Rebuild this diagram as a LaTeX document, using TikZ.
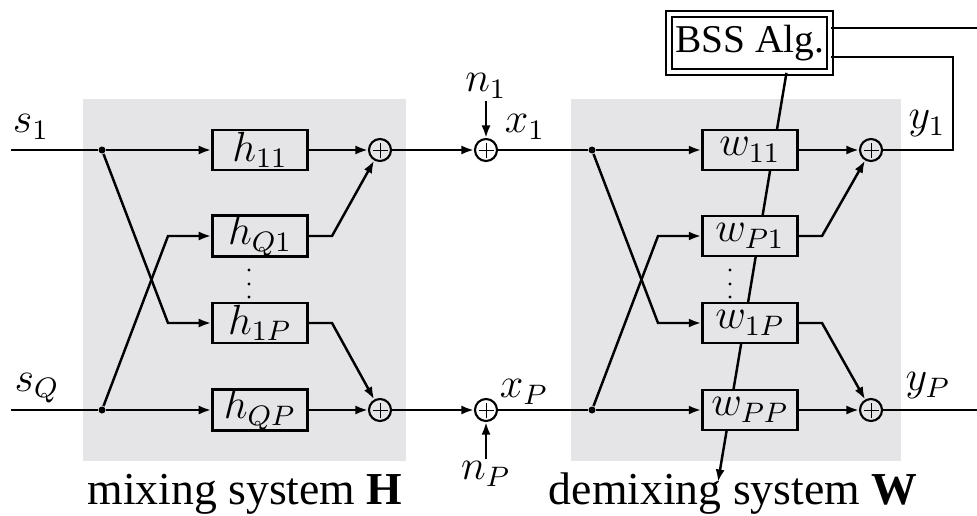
\documentclass[tikz,border=0pt]{standalone}
\usepackage{fontspec}
\setmainfont{Liberation Serif}
\usepackage{tikz}
\usetikzlibrary{arrows.meta}
\definecolor{sysgray}{RGB}{229,229,231}
\newcommand{\filterbox}[3]{
    \node[fbox] (#1) at #2 {$#3$};
}
\tikzset{
    fbox/.style={draw, fill=sysgray, line width=0.7pt, minimum width=0.95cm, minimum height=0.4cm, inner sep=0pt},
    adder/.style={circle, draw, line width=0.6pt, minimum size=0.22cm, inner sep=0pt,
        path picture={\draw[line width=0.25pt]
            ([yshift=-0.075cm]path picture bounding box.center) -- ([yshift=0.075cm]path picture bounding box.center)
            ([xshift=-0.075cm]path picture bounding box.center) -- ([xshift=0.075cm]path picture bounding box.center);}},
    junc/.style={circle, fill, inner sep=0pt, minimum size=0.07cm},
    sig/.style={line width=0.7pt},
    caption/.style={anchor=base, font=\fontsize{13}{15}\selectfont}
}

\begin{document}
\begin{tikzpicture}[x=0.01cm, y=-0.01cm, >={Latex[length=1.25mm,width=0.9mm]}, font=\fontsize{12}{14}\selectfont]
    \useasboundingbox (0,0) rectangle (977,515);
    \fill[sysgray] (83,99) rectangle (406,461);
    \fill[sysgray] (571,99) rectangle (901,461);

    % mixing system
    \coordinate (s1in) at (11,150);
    \coordinate (sQin) at (11,410);
    \node (s1) at (31,127) {$s_1$};
    \node (sQ) at (37,388) {$s_Q$};
    \node[junc] (hd1) at (102,150) {};
    \node[junc] (hdQ) at (102,410) {};
    \coordinate (hb1) at (168,323);
    \coordinate (hbQ) at (168,236);
    \filterbox{h11}{(260,150)}{h_{11}}
    \filterbox{hQ1}{(260,236)}{h_{Q1}}
    \filterbox{h1P}{(260,323)}{h_{1P}}
    \filterbox{hQP}{(260,410)}{h_{QP}}
    \foreach \dy in {270,284,297}
        \fill (249,\dy) circle (0.45pt);
    \coordinate (hc1) at (332,236);
    \coordinate (hcP) at (332,323);
    \node[adder] (ha1) at (380,150) {};
    \node[adder] (haP) at (380,410) {};

    % noise
    \node[adder] (an1) at (486,150) {};
    \node[adder] (anP) at (486,410) {};
    \node[inner sep=0.5pt] (n1) at (486,86) {$n_1$};
    \node[inner sep=0.5pt] (nP) at (486,474) {$n_P$};
    \node (x1) at (525,127) {$x_1$};
    \node (xP) at (524,392) {$x_P$};

    % demixing system
    \node[draw, double, double distance=0.042cm, line width=0.5pt, minimum width=1.61cm, minimum height=0.58cm, inner sep=0pt, font=\fontsize{11.2}{13}\selectfont] (bss) at (749.5,43) {BSS Alg.};
    \coordinate (wupd) at (718,482);
    \draw[sig,->] (bss.-39) -- (wupd);
    \node[junc] (wd1) at (592,150) {};
    \node[junc] (wdP) at (592,410) {};
    \coordinate (wb1) at (658,323);
    \coordinate (wbP) at (658,236);
    \filterbox{w11}{(750,150)}{w_{11}}
    \filterbox{wP1}{(750,236)}{w_{P1}}
    \filterbox{w1P}{(750,323)}{w_{1P}}
    \filterbox{wPP}{(750,410)}{w_{PP}}
    \foreach \dy in {270,284,297}
        \fill (730,\dy) circle (0.45pt);
    \coordinate (wc1) at (822,236);
    \coordinate (wcP) at (822,323);
    \node[adder] (wa1) at (871,150) {};
    \node[adder] (waP) at (871,410) {};
    \node (y1) at (927,124) {$y_1$};
    \node (yP) at (928,386) {$y_P$};
    \coordinate (fb) at (953,57);
    \coordinate (bssout) at (977,28);
    \coordinate (yPout) at (977,410);

    \draw[sig] (s1in) -- (hd1);
    \draw[sig] (sQin) -- (hdQ);
    \draw[sig,->] (hd1) -- (h11);
    \draw[sig,->] (hd1) -- (hb1) -- (h1P);
    \draw[sig,->] (hdQ) -- (hQP);
    \draw[sig,->] (hdQ) -- (hbQ) -- (hQ1);
    \draw[sig,->] (h11) -- (ha1);
    \draw[sig,->] (hQ1) -- (hc1) -- (ha1);
    \draw[sig,->] (h1P) -- (hcP) -- (haP);
    \draw[sig,->] (hQP) -- (haP);
    \draw[sig,->] (ha1) -- (an1);
    \draw[sig,->] (haP) -- (anP);
    \draw[sig,->] (n1) -- (an1);
    \draw[sig,->] (nP) -- (anP);
    \draw[sig] (an1) -- (wd1);
    \draw[sig] (anP) -- (wdP);
    \draw[sig,->] (wd1) -- (w11);
    \draw[sig,->] (wd1) -- (wb1) -- (w1P);
    \draw[sig,->] (wdP) -- (wPP);
    \draw[sig,->] (wdP) -- (wbP) -- (wP1);
    \draw[sig,->] (w11) -- (wa1);
    \draw[sig,->] (wP1) -- (wc1) -- (wa1);
    \draw[sig,->] (w1P) -- (wcP) -- (waP);
    \draw[sig,->] (wPP) -- (waP);
    \draw[sig] (wa1) -| (fb) -- (bss.east |- fb);
    \draw[sig] (bss.east |- bssout) -- (bssout);
    \draw[sig] (waP) -- (yPout);

    \node[caption] (capH) at (245,504) {mixing system \textbf{H}};
    \node[caption] (capW) at (733,504) {demixing system \textbf{W}};
\end{tikzpicture}
\end{document}
